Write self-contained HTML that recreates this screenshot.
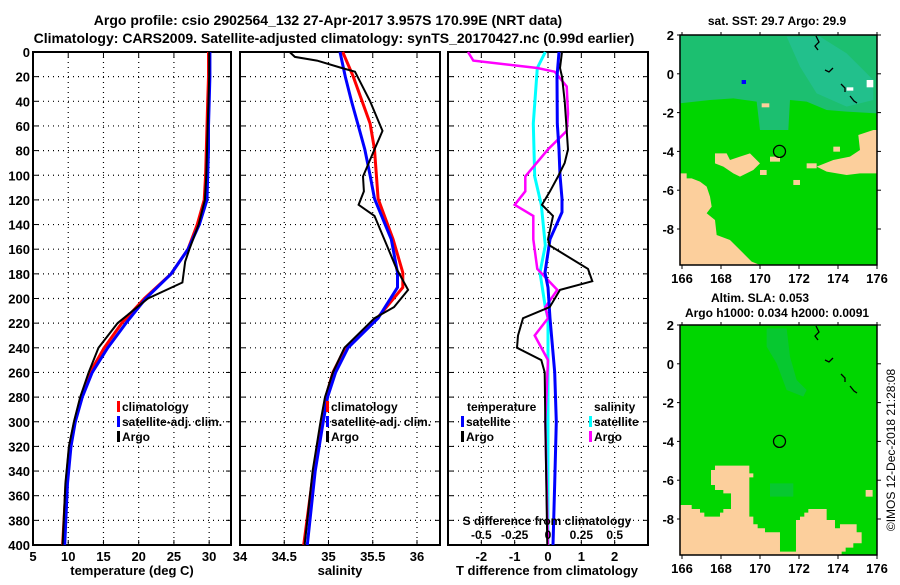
<!DOCTYPE html>
<html><head><meta charset="utf-8"><style>
body{margin:0;background:#fff;}
svg text{font-family:"Liberation Sans",sans-serif;font-weight:bold;fill:#000;}
</style></head><body>
<svg id="c" width="900" height="580" viewBox="0 0 900 580" xmlns="http://www.w3.org/2000/svg">
<text x="328" y="25" font-size="14" text-anchor="middle">Argo profile: csio 2902564_132 27-Apr-2017 3.957S 170.99E (NRT data)</text>
<text x="334" y="43" font-size="14" text-anchor="middle">Climatology: CARS2009. Satellite-adjusted climatology: synTS_20170427.nc (0.99d earlier)</text>
<g id="maps"></g>
<text transform="translate(895,450) rotate(-90)" font-size="12" style="font-weight:normal" text-anchor="middle">©IMOS 12-Dec-2018 21:28:08</text>
</svg>
<script>
const depths = [0,20,40,60,80,100,120,140,160,180,200,220,240,260,280,300,320,350,400];
const tempClim = [29.9,29.9,29.8,29.7,29.6,29.5,29.3,28.3,27.0,24.6,20.8,17.6,15.1,13.1,11.8,10.9,10.2,9.7,9.2];
const tempSat  = [30.1,30.1,30.0,29.9,29.9,29.8,29.7,28.6,27.0,24.6,21.0,18.2,15.6,13.4,12.0,11.0,10.4,9.9,9.5];
const tempArgoD = [0,20,40,60,80,100,120,140,160,170,187,200,220,240,260,280,300,320,350,400];
const tempArgo  = [30.0,30.0,29.9,29.8,29.7,29.6,29.4,28.5,27.2,26.6,26.2,21.3,17.0,14.3,12.9,11.7,10.8,10.1,9.6,9.2];
const salClimD = [0,20,58,79,119,152,179,191,216,240,260,280,300,340,400];
const salClim  = [35.16,35.28,35.47,35.52,35.56,35.73,35.84,35.84,35.55,35.19,35.05,34.97,34.92,34.83,34.72];
const salSatD = [0,20,40,58,79,100,119,152,179,191,216,240,260,280,300,340,400];
const salSat  = [35.13,35.19,35.26,35.33,35.41,35.47,35.52,35.71,35.78,35.78,35.56,35.22,35.08,34.99,34.94,34.85,34.76];
const salArgoD = [0,4,7,13,16,40,64,79,101,113,124,133,157,176,193,207,216,240,260,280,300,340,400];
const salArgo  = [34.56,34.62,34.87,35.15,35.30,35.47,35.61,35.52,35.39,35.40,35.34,35.52,35.66,35.77,35.90,35.74,35.52,35.18,35.05,34.96,34.91,34.82,34.73];
const dTsatD = [0,20,58,79,100,119,130,152,179,191,216,260,300,350,400];
const dTsat  = [0.33,0.27,0.28,0.33,0.36,0.42,0.42,0.06,-0.09,0.0,0.06,0.2,0.25,0.2,0.15];
const dTargoD = [0,13,20,40,79,90,101,113,124,133,152,157,176,186,193,207,216,230,240,250,260,300,350,400];
const dTargo  = [0.42,0.36,0.42,0.5,0.6,0.5,0.3,0.06,-0.18,0.15,0.0,0.05,1.2,1.33,0.36,0.05,-0.75,-0.9,-0.93,-0.2,-0.1,-0.08,-0.05,-0.02];
const dSsatD = [0,13,58,101,124,157,179,207,216,260,300,400];
const dSsat  = [-0.02,-0.08,-0.11,-0.1,-0.05,-0.02,-0.06,-0.02,0.0,0.0,0.0,0.0];
const dSargoD = [0,7,13,16,28,50,64,79,101,113,124,133,152,176,193,207,216,230,250,300,400];
const dSargo  = [-0.6,-0.56,-0.08,0.05,0.14,0.15,0.14,0.0,-0.17,-0.17,-0.25,-0.11,-0.11,-0.08,0.07,-0.02,0.0,-0.1,0.0,-0.02,0.0];
const depthTicks = [0,20,40,60,80,100,120,140,160,180,200,220,240,260,280,300,320,340,360,380,400];
const tempTicks = [5,10,15,20,25,30];
const salTicks = [34,34.5,35,35.5,36];
const dTTicks = [-2,-1,0,1,2];
const dSTicks = [-0.5,-0.25,0,0.25,0.5];
const dSTickLabels = ["-0.5","-0.25","0","0.25","0.5"];
const lonTicks = [166,168,170,172,174,176];
const latTicks = [2,0,-2,-4,-6,-8];

const NS="http://www.w3.org/2000/svg";
const svg=document.getElementById('c');
function mk(tag,attrs,parent){const e=document.createElementNS(NS,tag);for(const k in attrs)e.setAttribute(k,attrs[k]);(parent||svg).appendChild(e);return e;}
const Y0=52,Y1=545;
const yD=d=>Y0+d*(Y1-Y0)/400;

function panel(name,x0,x1,vmin,vmax){
  const xs=v=>x0+(v-vmin)*(x1-x0)/(vmax-vmin);
  const g=mk('g',{});
  
  
  return {g,xs};
}
function grid(p,x0,x1,xticks,showY){
  depthTicks.forEach(d=>{
    const y=yD(d);
    if(d>0&&d<400){const l=mk('line',{x1:x0,x2:x1,y1:y,y2:y,stroke:'#000','stroke-width':1.2,'stroke-dasharray':'1 4'},p.g);
      }
    mk('line',{x1:x0,x2:x0+5,y1:y,y2:y,stroke:'#000'},p.g);
    mk('line',{x1:x1-5,x2:x1,y1:y,y2:y,stroke:'#000'},p.g);
    if(showY){const t=mk('text',{x:x0-3,y:y+5,'font-size':13,'text-anchor':'end'},p.g);t.textContent=d;
      }
  });
  xticks.forEach(v=>{const x=p.xs(v);
    if(x>x0+1&&x<x1-1){const l=mk('line',{x1:x,x2:x,y1:Y0,y2:Y1,stroke:'#000','stroke-width':1.2,'stroke-dasharray':'1 4'},p.g);
      }
    mk('line',{x1:x,x2:x,y1:Y1-5,y2:Y1,stroke:'#000'},p.g);
    mk('line',{x1:x,x2:x,y1:Y0,y2:Y0+5,stroke:'#000'},p.g);
  });
  const r=mk('rect',{x:x0,y:Y0,width:x1-x0,height:Y1-Y0,fill:'none',stroke:'#000','stroke-width':2},p.g);
  
}
function line(p,xs,xv,dv,color,w,name){
  const pts=xv.map((v,i)=>xs(v).toFixed(1)+','+yD(dv[i]).toFixed(1)).join(' ');
  const l=mk('polyline',{points:pts,fill:'none',stroke:color,'stroke-width':w},p.g);
  
}
function txt(p,x,y,s,size,anchor,name){const t=mk('text',{x,y,'font-size':size,'text-anchor':anchor||'start'},p.g);t.textContent=s;
  return t;}
function legItem(p,x,y,color,label,name){
  const r=mk('rect',{x:x,y:y-10,width:3,height:11,fill:color},p.g);
  
  txt(p,x+5,y,label,12,'start',name);
}

const TY=561, TT=575;
// Panel 1 temperature
const p1=panel('temperature-panel',33,231,5,33.1);
grid(p1,33,231,tempTicks,true);
line(p1,p1.xs,tempClim,depths,'#f00',3,'temp-climatology-line');
line(p1,p1.xs,tempSat,depths,'#00f',3,'temp-satellite-line');
line(p1,p1.xs,tempArgo,tempArgoD,'#000',2,'temp-argo-line');
tempTicks.forEach(v=>txt(p1,p1.xs(v),TY,String(v),13,'middle','temp-tick-label'));
txt(p1,132,TT,'temperature (deg C)',13,'middle','temp-axis-title');
legItem(p1,117,411,'#f00','climatology','legend-climatology');
legItem(p1,117,426,'#00f','satellite-adj. clim.','legend-satellite-adj');
legItem(p1,117,441,'#000','Argo','legend-argo');

// Panel 2 salinity
const p2=panel('salinity-panel',240,440,34,36.26);
grid(p2,240,440,salTicks,false);
line(p2,p2.xs,salClim,salClimD,'#f00',3,'sal-climatology-line');
line(p2,p2.xs,salSat,salSatD,'#00f',3,'sal-satellite-line');
line(p2,p2.xs,salArgo,salArgoD,'#000',2,'sal-argo-line');
salTicks.forEach(v=>txt(p2,p2.xs(v),TY,String(v),13,'middle','sal-tick-label'));
txt(p2,340,TT,'salinity',13,'middle','sal-axis-title');
legItem(p2,326,411,'#f00','climatology','legend-climatology');
legItem(p2,326,426,'#00f','satellite-adj. clim.','legend-satellite-adj');
legItem(p2,326,441,'#000','Argo','legend-argo');

// Panel 3 differences
const p3=panel('difference-panel',448,648,-3,3);
const xsS=v=>p3.xs(v*4);
grid(p3,448,648,dTTicks,false);
line(p3,xsS,dSsat,dSsatD,'#0ff',3,'sal-diff-satellite-line');
line(p3,xsS,dSargo,dSargoD,'#f0f',2.5,'sal-diff-argo-line');
line(p3,p3.xs,dTsat,dTsatD,'#00f',3,'temp-diff-satellite-line');
line(p3,p3.xs,dTargo,dTargoD,'#000',2,'temp-diff-argo-line');
dTTicks.forEach(v=>txt(p3,p3.xs(v),TY,String(v),13,'middle','temp-diff-tick-label'));
dSTicks.forEach((v,i)=>txt(p3,xsS(v),539,dSTickLabels[i],12,'middle','sal-diff-tick-label'));
txt(p3,547,525,'S difference from climatology',12,'middle','sal-diff-axis-title');
txt(p3,547,TT,'T difference from climatology',13,'middle','temp-diff-axis-title');
txt(p3,467,411,'temperature',12,'start','legend-temperature-heading');
legItem(p3,461,426,'#00f','satellite','legend-temp-satellite');
legItem(p3,461,441,'#000','Argo','legend-temp-argo');
txt(p3,594,411,'salinity',12,'start','legend-salinity-heading');
legItem(p3,589,426,'#0ff','satellite','legend-sal-satellite');
legItem(p3,589,441,'#f0f','Argo','legend-sal-argo');

// Maps
const maps=document.getElementById('maps');
function mapPanel(name,top,tan,teal,title){
  const g=mk('g',{},maps);
  
  const mx0=680,mx1=877,bot=top+230;
  const lx=l=>682+(l-166)*19.5, ly=l=>top+(2-l)*19.4;
  mk('rect',{x:mx0,y:top,width:mx1-mx0,height:bot-top,fill:'#00d600'},g);
  const tr='translate(660,'+(top-35)+') scale(0.3333)';
  teal.forEach(p=>{const e=mk('polygon',{points:p[0],fill:p[1],transform:tr},g);
    });
  tan.forEach(p=>{const e=mk('polygon',{points:p,fill:'#fccf9c',transform:tr},g);
    });
  const c=mk('circle',{cx:lx(171),cy:ly(-4),r:6,fill:'none',stroke:'#000','stroke-width':1.3},g);
  
  const off='translate(0,'+(top-35)+')';
  mk('polyline',{points:'816,36 819,42 815,46 818,50',fill:'none',stroke:'#000','stroke-width':1.3,transform:off},g);
  mk('polyline',{points:'825,70 829,72 833,68',fill:'none',stroke:'#000','stroke-width':1.3,transform:off},g);
  mk('polyline',{points:'841,84 845,88 845,92',fill:'none',stroke:'#000','stroke-width':1.3,transform:off},g);
  mk('polyline',{points:'850,96 854,101 857,103',fill:'none',stroke:'#000','stroke-width':1.3,transform:off},g);
  const fr=mk('rect',{x:mx0,y:top,width:mx1-mx0,height:bot-top,fill:'none',stroke:'#000','stroke-width':1.5},g);
  
  lonTicks.forEach(l=>{const x=lx(l);mk('line',{x1:x,x2:x,y1:top-3,y2:top,stroke:'#000'},g);mk('line',{x1:x,x2:x,y1:bot,y2:bot+4,stroke:'#000'},g);
    const t=mk('text',{x:x,y:bot+18,'font-size':13,'text-anchor':'middle'},g);t.textContent=l;
    });
  latTicks.forEach(l=>{const y=ly(l);mk('line',{x1:mx0-3,x2:mx0,y1:y,y2:y,stroke:'#000'},g);mk('line',{x1:mx1,x2:mx1+4,y1:y,y2:y,stroke:'#000'},g);
    const t=mk('text',{x:674,y:y+5,'font-size':13,'text-anchor':'end'},g);t.textContent=l;
    });
  title.forEach(a=>{const t=mk('text',{x:a[0],y:a[1],'font-size':12,'text-anchor':'middle'},g);t.textContent=a[2];
    });
}
mapPanel('sst-map',35,[
 '58,520 80,520 80,535 95,535 120,545 140,560 150,590 155,620 140,640 165,660 170,705 210,720 230,740 250,760 275,785 300,795 58,795',
 '595,405 640,390 652,390 652,520 600,520 560,525 500,515 470,500 520,480 570,470 600,450',
 '165,460 200,460 210,480 240,470 270,460 300,490 280,510 240,530 220,520 190,500 165,490',
 '440,490 470,490 470,505 440,505','330,470 360,470 360,485 330,485','300,510 320,510 320,525 300,525',
 '400,540 420,540 420,555 400,555','520,440 540,440 540,455 520,455','305,310 328,310 328,322 305,322'
],[
 ['58,105 652,105 652,340 560,335 500,330 440,305 390,300 385,390 300,390 290,305 220,295 150,300 58,310','#1cbf70'],
 ['380,110 480,110 560,160 600,200 640,240 640,300 560,320 470,280 420,200','#22c08c'],
 ['245,240 258,240 258,252 245,252','#0000ff'],
 ['620,240 640,240 640,262 620,262','#ffffff'],['560,262 580,262 580,272 560,272','#ffffff']
],[[777,25,'sat. SST: 29.7 Argo: 29.9']]);
mapPanel('sla-map',325,[
 '58,645 95,645 95,657 120,657 120,668 133,668 133,680 180,680 180,668 190,668 190,657 213,657 213,610 190,610 190,600 165,600 165,585 153,585 153,540 165,540 165,527 268,527 268,550 280,550 280,562 268,562 268,680 280,680 280,703 293,703 293,715 315,715 315,727 360,727 360,785 408,785 408,690 420,690 420,680 433,680 433,668 445,668 445,657 500,657 500,690 525,690 525,715 540,715 540,703 590,703 590,727 605,727 605,760 580,760 580,773 557,773 557,785 545,785 545,795 58,795',
 '617,600 638,600 638,620 617,620'
],[
 ['320,115 380,115 390,200 410,270 440,300 430,320 380,300 350,220 320,170','#07c830'],
 ['330,580 400,580 400,620 330,620','#07c830']
],[[760,302,'Altim. SLA: 0.053'],[777,317,'Argo h1000: 0.034 h2000: 0.0091']]);
</script>
</body></html>
